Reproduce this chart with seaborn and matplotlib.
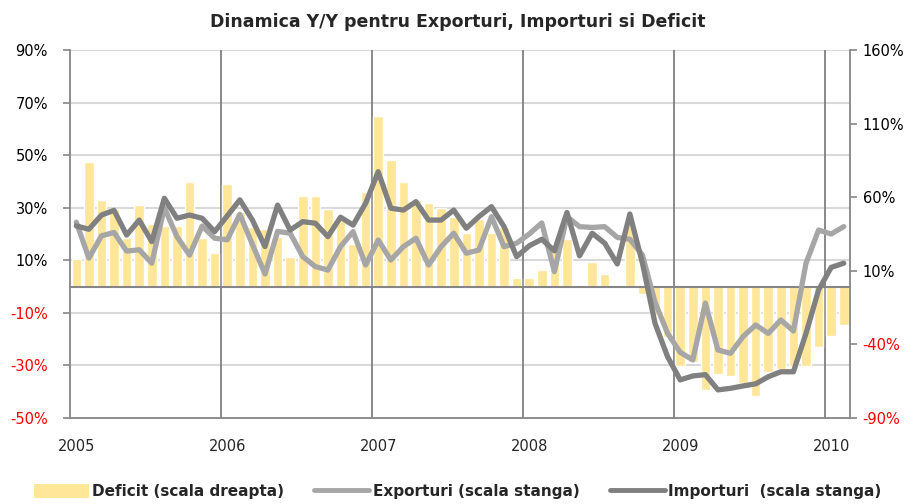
import numpy as np
import pandas as pd
import matplotlib
matplotlib.use('Agg')
import matplotlib.pyplot as plt
import matplotlib.transforms as mtransforms
from matplotlib.patches import Patch
from matplotlib.lines import Line2D
import seaborn as sns

# ── Data (monthly, Jan 2005 - Feb 2010, Y/Y %) ────────────────────────────────
years = ['2005', '2006', '2007', '2008', '2009', '2010']

deficit = [18, 84, 58, 52, 32, 55, 42, 40.6, 40.6, 70, 32.5, 22.3,
           69, 50, 40, 38.6, 33, 19.7, 61, 60.5, 52, 44.5, 28.4, 63.5,
           115, 85.5, 70.3, 58, 56, 52.4, 46.3, 35.4, 45.2, 35.4, 40, 5.3,
           5.3, 10.8, 26, 31.4, -2, 16.2, 7.8, -2, 41, -5.8, -20, -34.8,
           -55, -52, -71, -60, -61.5, -66, -75, -58.5, -57, -55, -54.7, -41.6,
           -34, -26.6]

exporturi = [24.5, 10.8, 19.3, 20.6, 13.5, 14, 8.9, 30, 19, 12, 23, 18.4,
             17.8, 27.5, 16, 4.8, 21, 20.3, 11.4, 7.6, 6.3, 15.2, 20.9, 8.2,
             17.7, 10.1, 15.2, 18.4, 8.2, 15.2, 20.3, 12.7, 13.9, 26.6, 15.2, 16.5,
             20, 24.2, 5.7, 26.6, 22.8, 22.5, 22.8, 18.7, 18, 12, -6, -17.8,
             -25, -27.9, -6.3, -24.1, -25.4, -19, -14.6, -17.8, -12.7, -16.9, 8.9, 21.5,
             20, 22.8]

importuri = [23.1, 21.8, 27.2, 29, 19.6, 25.3, 17.1, 33.6, 26, 27.2, 26, 20.9,
             26.9, 33, 25.3, 15.2, 31, 21.5, 24.7, 24.1, 19, 26.4, 23.4, 31.7,
             43.7, 29.8, 29.1, 32.3, 25.3, 25.3, 29.1, 22.2, 26.6, 30.4, 22.8, 11.4,
             15.5, 18, 13.6, 28.2, 11.7, 20.3, 16.5, 8.6, 27.6, 8.9, -14, -26.7,
             -35.5, -34, -33.5, -39.3, -38.7, -37.8, -37, -34.3, -32.4, -32.4, -17.8, -1.3,
             7.3, 8.9]

left_ticks = [-50, -30, -10, 10, 30, 50, 70, 90]
right_ticks = [-90, -40, 10, 60, 110, 160]

df = pd.DataFrame({'luna': np.arange(len(deficit)),
                   'deficit': deficit,
                   'exporturi': exporturi,
                   'importuri': importuri})

# ── Style ─────────────────────────────────────────────────────────────────────
sns.set_style('white')
plt.rcParams['font.family'] = ['DejaVu Sans']

BAR = '#ffe699'
EXP = '#a6a6a6'
IMP = '#808080'
AXC = '#868686'
GRID = '#d9d9d9'

fig = plt.figure(figsize=(9.15, 5.04), dpi=100)
ax_r = fig.add_axes([0.0765, 0.1706, 0.8525, 0.7302])
ax_l = ax_r.twinx()
ax_r.yaxis.tick_right()
ax_l.yaxis.tick_left()

# ── Bars (right scale) ────────────────────────────────────────────────────────
sns.barplot(data=df, x='luna', y='deficit', ax=ax_r, color=BAR,
            width=0.76, native_scale=True, saturation=1, zorder=2)
ax_r.set_ylim(-90, 160)
ax_r.set_xlim(-0.5, len(deficit) - 0.5)

# horizontal grid at left-scale ticks, drawn behind the bars
tr = mtransforms.blended_transform_factory(ax_r.transAxes, ax_l.transData)
for v in left_ticks[1:]:
    ax_r.plot([0, 1], [v, v], transform=tr, color=GRID, lw=1.5, zorder=1)

# year separators
for i in range(1, len(years)):
    ax_r.axvline(12 * i - 0.5, color=IMP, lw=1.3, zorder=1.5)

# ── Lines (left scale) ────────────────────────────────────────────────────────
sns.lineplot(data=df, x='luna', y='exporturi', ax=ax_l, color=EXP, lw=3.8,
             solid_capstyle='round', solid_joinstyle='round')
sns.lineplot(data=df, x='luna', y='importuri', ax=ax_l, color=IMP, lw=3.8,
             solid_capstyle='round', solid_joinstyle='round')
ax_l.set_ylim(-50, 90)
ax_l.axhline(0, color=AXC, lw=1.5, zorder=1)

# ── Axes styling ──────────────────────────────────────────────────────────────
ax_l.set_yticks(left_ticks, [f'{v}%' for v in left_ticks])
ax_r.set_yticks(right_ticks, [f'{v}%' for v in right_ticks])
for lab, v in zip(ax_l.get_yticklabels(), left_ticks):
    lab.set_color('red' if v < 0 else 'black')
for lab, v in zip(ax_r.get_yticklabels(), right_ticks):
    lab.set_color('red' if v < 0 else 'black')

ax_r.set_xticks([12 * i for i in range(len(years))], years)
ax_r.tick_params(axis='x', length=0, pad=15, labelsize=10.5)
ax_r.tick_params(axis='y', length=5, width=1.2, color=AXC, pad=4, labelsize=10.5)
ax_l.tick_params(axis='y', length=5, width=1.2, color=AXC, pad=11, labelsize=10.5)

for a in (ax_r, ax_l):
    a.set_xlabel('')
    a.set_ylabel('')
    a.spines['top'].set_visible(False)
    for s in ('left', 'right', 'bottom'):
        a.spines[s].set_color(AXC)
        a.spines[s].set_linewidth(1.3)
ax_r.spines['left'].set_visible(False)
ax_l.spines['right'].set_visible(False)
ax_l.spines['bottom'].set_visible(False)
ax_r.plot([0, 1], [1, 1], transform=ax_r.transAxes, color=GRID, lw=1.5, zorder=1)

fig.suptitle('Dinamica Y/Y pentru Exporturi, Importuri si Deficit',
             x=0.5, y=0.956, va='center', fontsize=12.5, fontweight='bold')

# ── Legend ────────────────────────────────────────────────────────────────────
handles = [Patch(facecolor=BAR, edgecolor='none'),
           Line2D([], [], color=EXP, lw=3.5),
           Line2D([], [], color=IMP, lw=3.5)]
labels = ['Deficit (scala dreapta)', 'Exporturi (scala stanga)',
          'Importuri  (scala stanga)']
fig.legend(handles, labels, loc='center', bbox_to_anchor=(0.5, 0.024), ncol=3,
           frameon=False, handlelength=3.6, handleheight=1.0, handletextpad=0.2,
           columnspacing=2.0, borderpad=0.2, prop={'weight': 'bold', 'size': 11})

fig.savefig('out.png', dpi=100)
